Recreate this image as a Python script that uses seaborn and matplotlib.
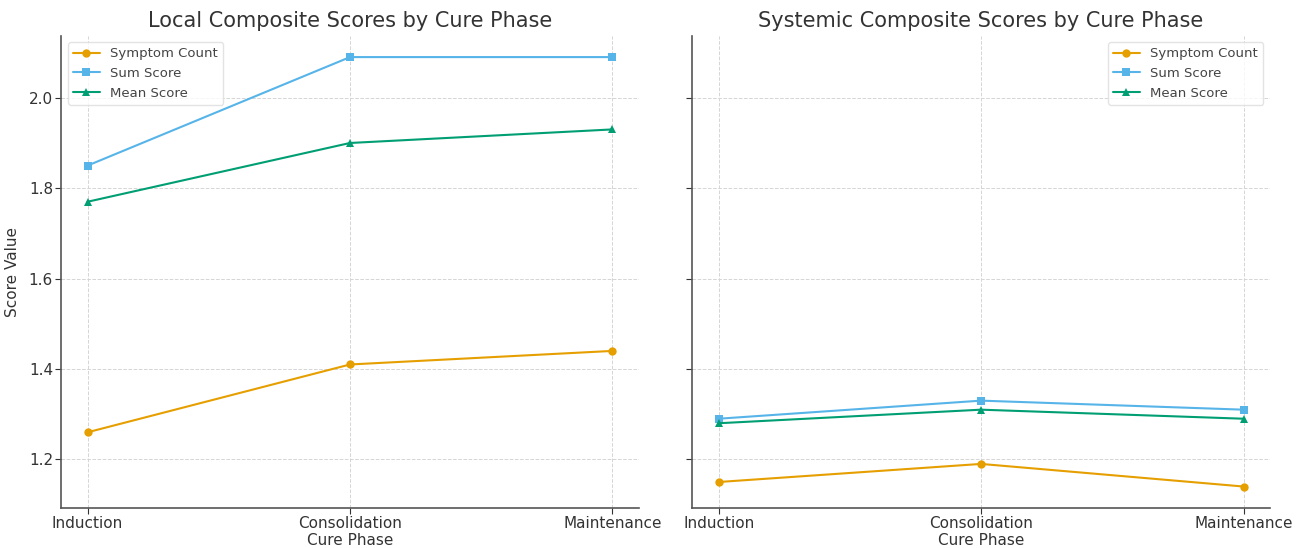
import matplotlib
matplotlib.use("Agg")
import matplotlib.pyplot as plt
import seaborn as sns
import pandas as pd

phases = ["Induction", "Consolidation", "Maintenance"]
series_names = ["Symptom Count", "Sum Score", "Mean Score"]

local_symptom = [1.26, 1.41, 1.44]
local_sum = [1.85, 2.09, 2.09]
local_mean = [1.77, 1.90, 1.93]

systemic_symptom = [1.15, 1.19, 1.14]
systemic_sum = [1.29, 1.33, 1.31]
systemic_mean = [1.28, 1.31, 1.29]

colors = ["#E69F00", "#56B4E9", "#009E73"]
markers = ["o", "s", "^"]

def make_df(a, b, c):
    rows = []
    for name, vals in zip(series_names, [a, b, c]):
        for p, v in zip(phases, vals):
            rows.append({"Phase": p, "Series": name, "Value": v})
    return pd.DataFrame(rows)

sns.set_style("ticks")
plt.rcParams["font.family"] = ["DejaVu Sans"]

fig, axes = plt.subplots(1, 2, figsize=(13.05, 5.48), dpi=100, sharey=True)

panels = [
    (axes[0], make_df(local_symptom, local_sum, local_mean), "Local Composite Scores by Cure Phase", "upper left"),
    (axes[1], make_df(systemic_symptom, systemic_sum, systemic_mean), "Systemic Composite Scores by Cure Phase", "upper right"),
]

for ax, df, title, loc in panels:
    for name, col, mk in zip(series_names, colors, markers):
        sub = df[df["Series"] == name]
        sns.lineplot(data=sub, x="Phase", y="Value", ax=ax, color=col, marker=mk,
                     markersize=6, markeredgewidth=0, linewidth=1.5, label=name, sort=False)
    ax.set_title(title, fontsize=15, color="#333333")
    ax.set_xlabel("Cure Phase", fontsize=11, color="#333333", labelpad=1)
    ax.set_ylabel("Score Value", fontsize=11, color="#333333", labelpad=6)
    ax.grid(True, linestyle="--", color="#d5d5d5", linewidth=0.7)
    ax.tick_params(labelsize=11, colors="#333333", direction="out", length=4, pad=2)
    for sp in ["top", "right"]:
        ax.spines[sp].set_visible(False)
    for sp in ["left", "bottom"]:
        ax.spines[sp].set_color("#555555")
        ax.spines[sp].set_linewidth(1.2)
    leg = ax.legend(loc=loc, fontsize=9.5, frameon=True)
    leg.get_frame().set_edgecolor("#dddddd")
    for t in leg.get_texts():
        t.set_color("#444444")

axes[1].set_ylabel("")
axes[1].tick_params(labelleft=False)

plt.subplots_adjust(left=0.047, right=0.973, top=0.935, bottom=0.073, wspace=0.093)
fig.savefig("out.png", dpi=100)
